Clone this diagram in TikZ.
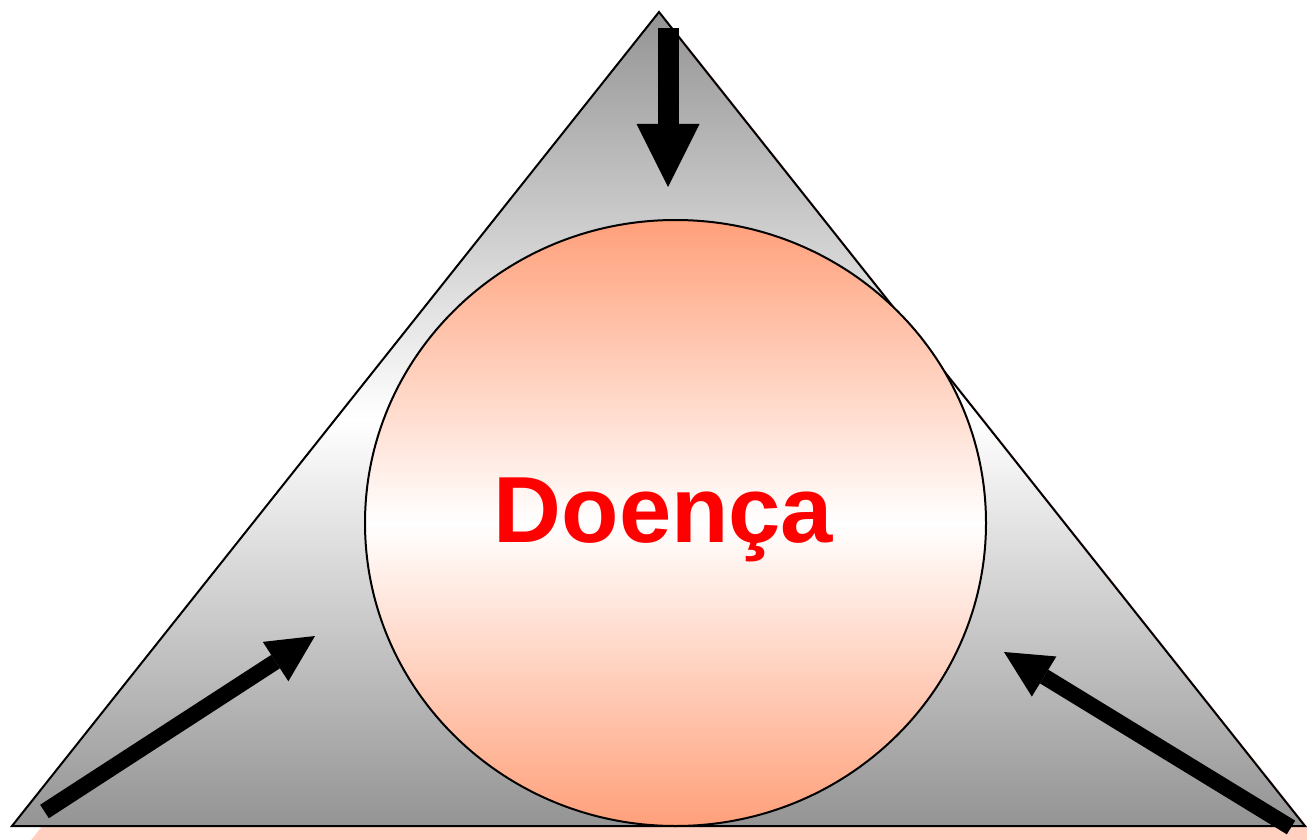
\documentclass[tikz,border=0pt]{standalone}
\usepackage{fontspec}
\setmainfont{Liberation Sans}
\usetikzlibrary{arrows.meta,shapes.geometric}
\definecolor{shadowsalmon}{RGB}{255,208,192}
\definecolor{pyramidgray}{RGB}{148,148,148}
\definecolor{coresalmon}{RGB}{255,160,122}
\definecolor{labelred}{RGB}{255,0,0}
\begin{document}
\begin{tikzpicture}[x=1pt,y=-1pt,
  outline/.style={draw=black,line width=2pt,line join=miter},
  bigarrow/.style={line width=21pt,-{Triangle[length=63pt,width=63pt,line width=0pt]}},
  sidearrow/.style={line width=16pt,-{Triangle[length=47pt,width=47pt,line width=0pt]}}]
\useasboundingbox (0,0) rectangle (1307,840);
\clip (0,0) rectangle (1307,840);

% drop shadow of the pyramid
\fill[shadowsalmon] (675,30) -- (1321,844) -- (28,844) -- cycle;

% shaded pyramid
\path[outline,top color=pyramidgray,bottom color=pyramidgray,middle color=white]
  (659,12) -- (1305,826) -- (12,826) -- cycle;

% central disease bubble
\node[ellipse,outline,minimum width=621pt,minimum height=606pt,inner sep=0pt,
  top color=coresalmon,bottom color=coresalmon,middle color=white] (core) at (675.5,523) {};

% arrow end points
\coordinate (topTail) at (668,28);
\coordinate (topTip) at (668,187);
\coordinate (leftTail) at (44.5,811.5);
\coordinate (leftTip) at (315,636);
\coordinate (rightTail) at (1291,827.5);
\coordinate (rightTip) at (1004,652);

\draw[bigarrow] (topTail) -- (topTip);
\draw[sidearrow] (leftTail) -- (leftTip);
\draw[sidearrow] (rightTail) -- (rightTip);

% label
\node[anchor=base,inner sep=0pt,text=labelred,font=\bfseries\fontsize{94}{94}\selectfont] (label) at (663.5,542) {Doença};
\end{tikzpicture}
\end{document}
